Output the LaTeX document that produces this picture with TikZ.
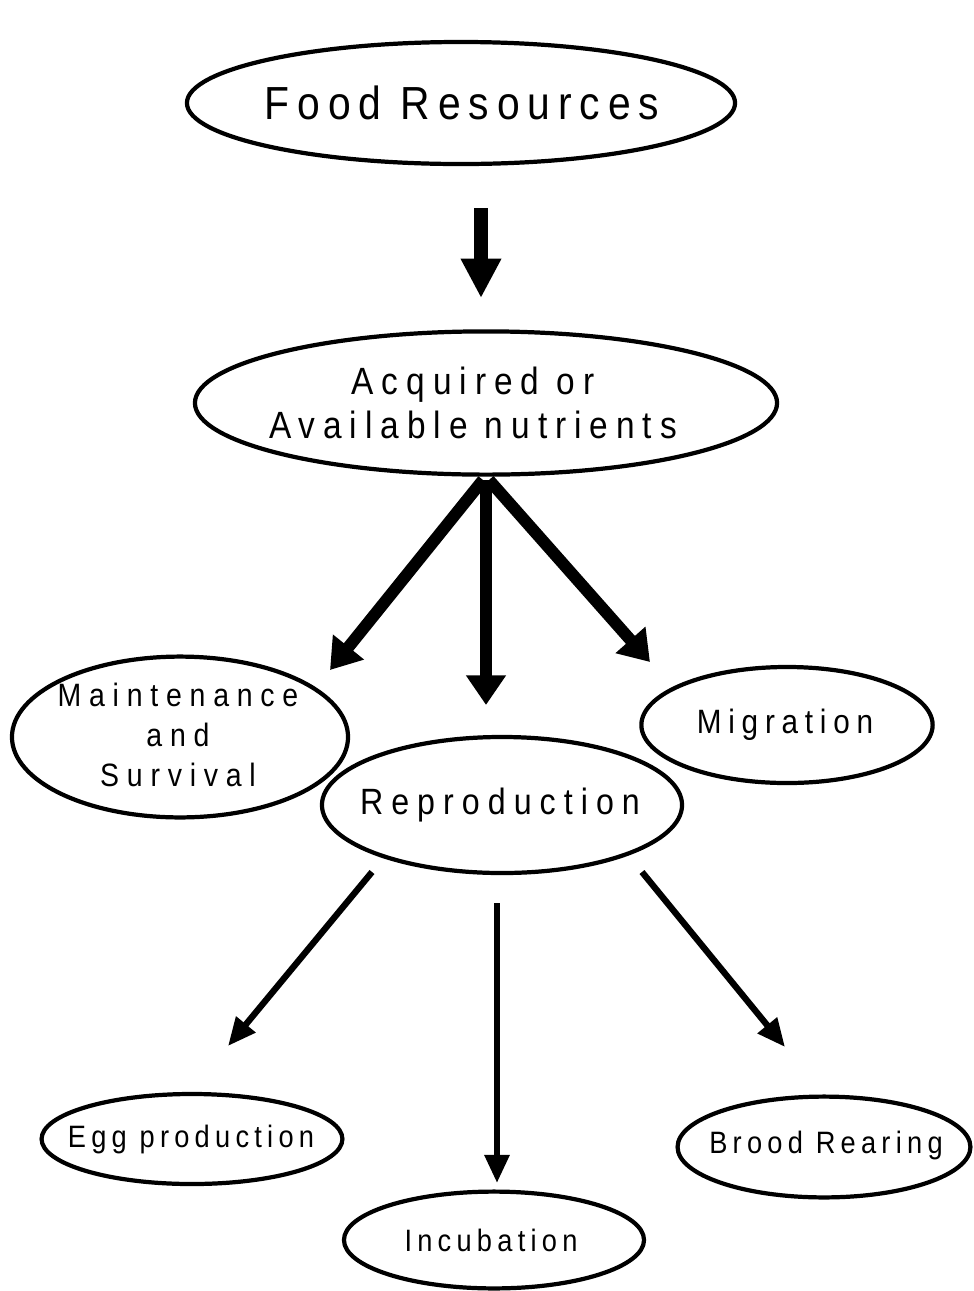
\documentclass[tikz,border=0pt]{standalone}
\usepackage{fontspec}
\setmainfont{Liberation Sans}[FakeStretch=0.88]
\usetikzlibrary{arrows.meta}

\begin{document}
\begin{tikzpicture}[
    x=0.025cm, y=-0.025cm,
    label/.style={inner sep=0pt, align=center},
    ring/.style={line width=3pt},
    bigarrow/.style={line width=10pt, -{Triangle[length=28pt,width=27pt]}},
    midarrow/.style={line width=8.5pt, -{Triangle[length=21pt,width=27pt]}},
    smallarrow/.style={line width=4.5pt, -{Triangle[length=20pt,width=17pt]}}
]
    \useasboundingbox (0,0) rectangle (974,1291);

    % Level 0: Food
    \node[label, font=\fontsize{33}{38}\selectfont\addfontfeature{LetterSpace=17}] (food) at (462,103) {Food Resources};
    \draw[ring] (461,103) ellipse [x radius=6.85cm, y radius=1.525cm];

    % Level 1: Nutrients
    \node[label, font=\fontsize{27}{31}\selectfont\addfontfeature{LetterSpace=21}] (acq) at (473,403) {Acquired or\\Available nutrients};
    \draw[ring] (486,403) ellipse [x radius=7.275cm, y radius=1.79cm];

    % Level 2: Allocation
    \node[label, font=\fontsize{23}{28.5}\selectfont\addfontfeature{LetterSpace=24}] (maint) at (178,735) {Maintenance\\and\\Survival};
    \draw[ring] (180,737) ellipse [x radius=4.2cm, y radius=2.01cm];
    \node[label, font=\fontsize{24}{28}\selectfont\addfontfeature{LetterSpace=20}] (migr) at (785,725) {Migration};
    \draw[ring] (787,725) ellipse [x radius=3.64cm, y radius=1.45cm];
    \node[label, font=\fontsize{26}{30}\selectfont\addfontfeature{LetterSpace=22}] (repro) at (500,805) {Reproduction};
    \draw[ring] (502,805) ellipse [x radius=4.5cm, y radius=1.7cm];

    % Level 3: Reproduction parts
    \node[label, font=\fontsize{22}{26}\selectfont\addfontfeature{LetterSpace=17}] (egg) at (191,1139) {Egg production};
    \draw[ring] (192,1139) ellipse [x radius=3.76cm, y radius=1.125cm];
    \node[label, font=\fontsize{22}{26}\selectfont\addfontfeature{LetterSpace=17}] (brood) at (826,1145) {Brood Rearing};
    \draw[ring] (824,1147) ellipse [x radius=3.66cm, y radius=1.26cm];
    \node[label, font=\fontsize{22}{26}\selectfont\addfontfeature{LetterSpace=17}] (incub) at (491,1240) {Incubation};
    \draw[ring] (494,1240) ellipse [x radius=3.75cm, y radius=1.21cm];

    % Arrow ends
    \coordinate (foodOut) at (481,208);
    \coordinate (acqIn) at (481,298);
    \coordinate (acqOutL) at (483,480);
    \coordinate (acqOutM) at (486,480);
    \coordinate (acqOutR) at (489,480);
    \coordinate (maintIn) at (330,670);
    \coordinate (reproIn) at (486,705);
    \coordinate (migrIn) at (650,662);
    \coordinate (reproOutL) at (372,872);
    \coordinate (reproOutM) at (497,903);
    \coordinate (reproOutR) at (642,872);
    \coordinate (eggIn) at (228,1046);
    \coordinate (incubIn) at (497,1183);
    \coordinate (broodIn) at (785,1047);

    % Edges
    \draw[bigarrow] (foodOut) -- (acqIn);

    \draw[midarrow] (acqOutL) -- (maintIn);
    \draw[midarrow] (acqOutM) -- (reproIn);
    \draw[midarrow] (acqOutR) -- (migrIn);

    \draw[smallarrow] (reproOutL) -- (eggIn);
    \draw[smallarrow] (reproOutM) -- (incubIn);
    \draw[smallarrow] (reproOutR) -- (broodIn);

\end{tikzpicture}
\end{document}
